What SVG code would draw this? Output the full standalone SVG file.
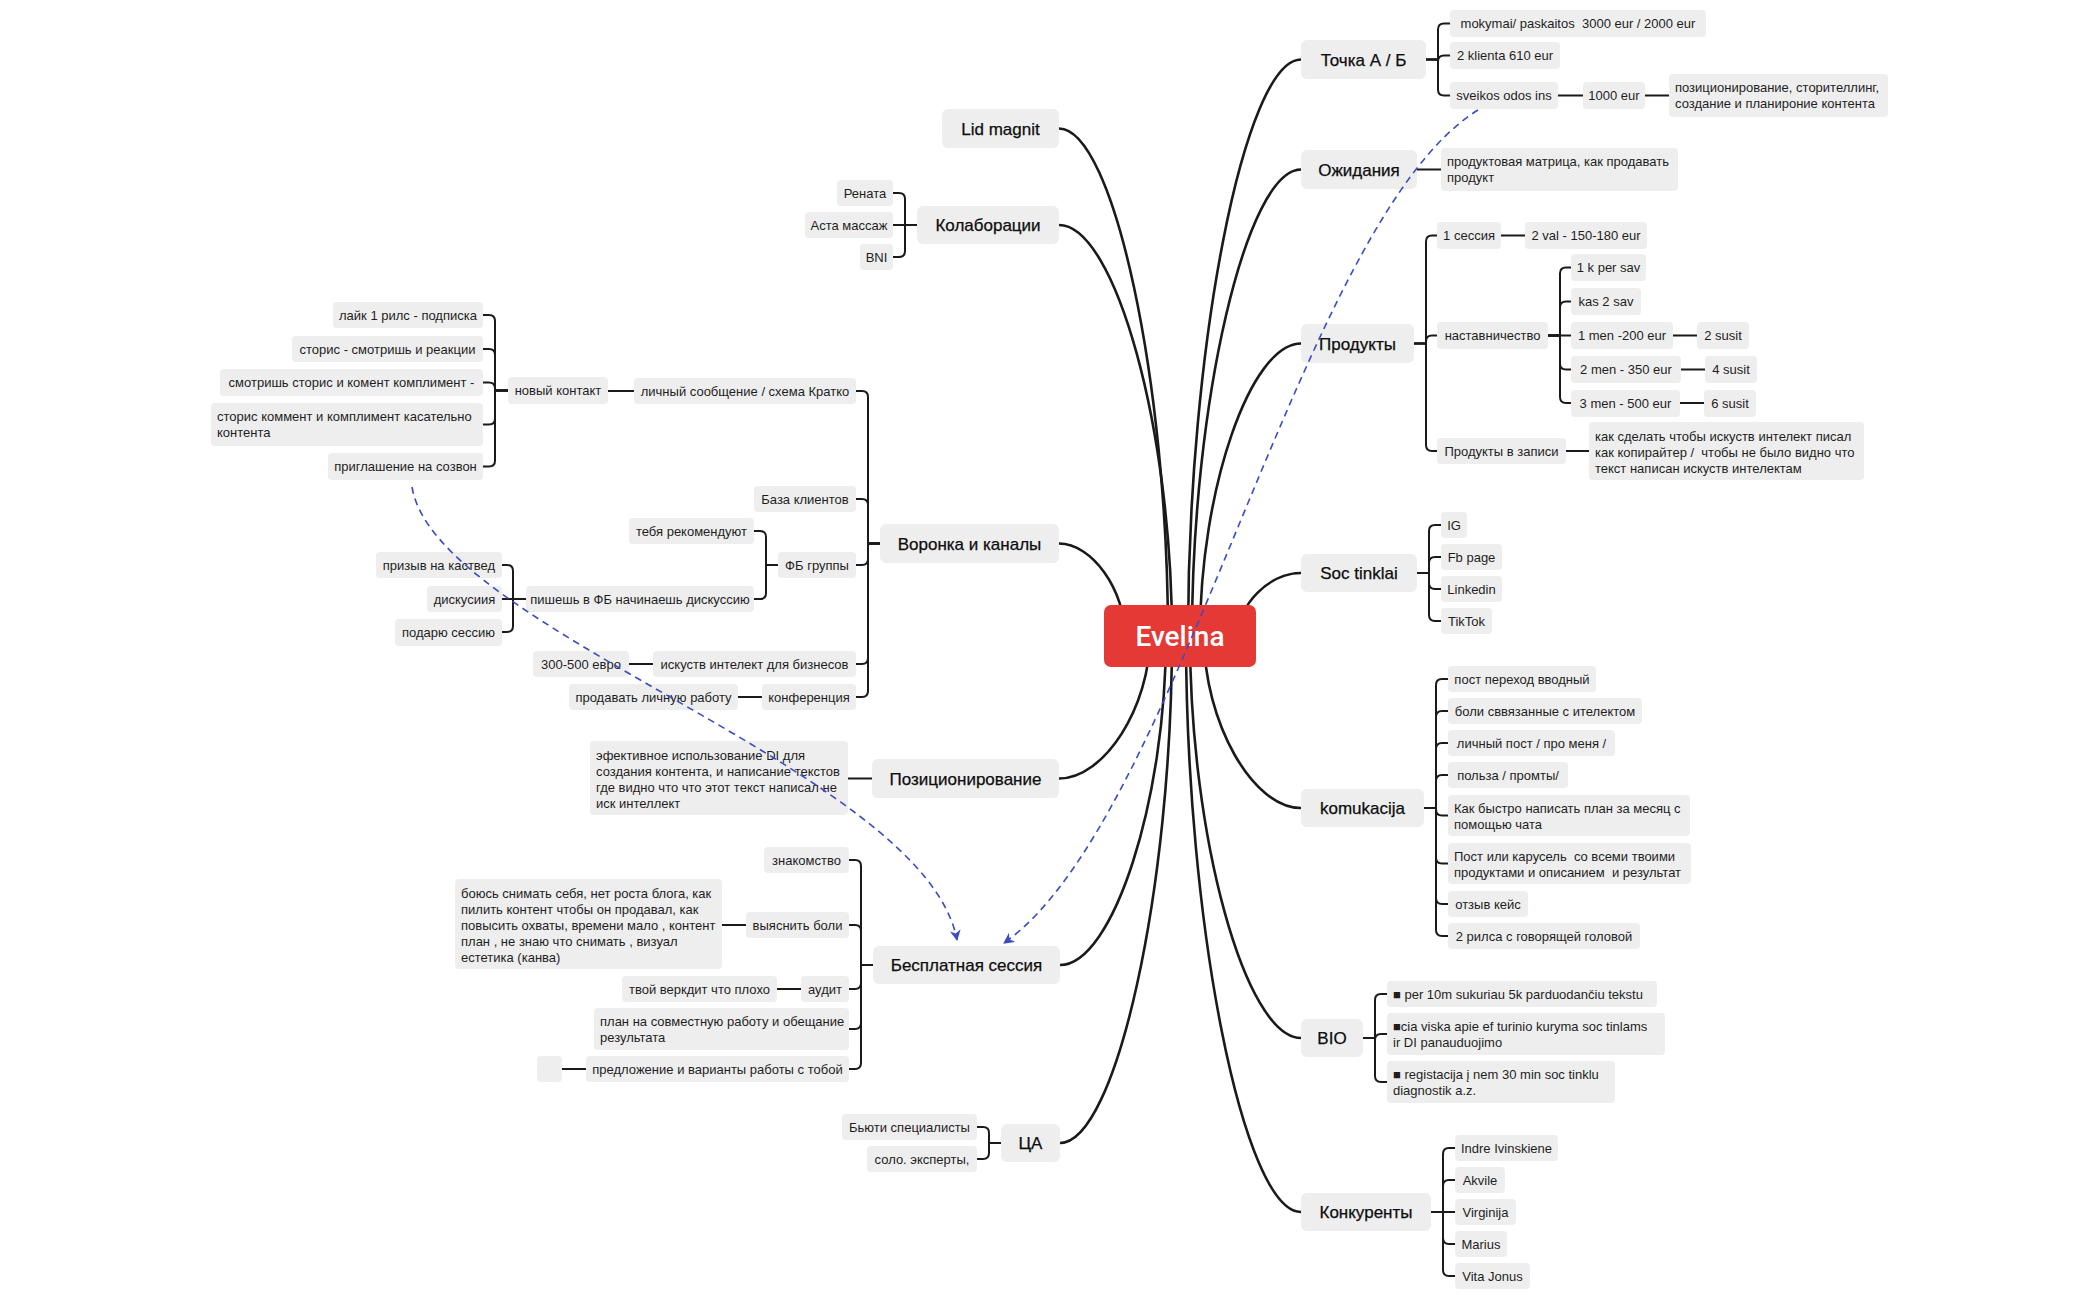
<svg xmlns="http://www.w3.org/2000/svg" width="2100" height="1300" viewBox="0 0 2100 1300">
<defs>
<style>
.b{fill:#eeeeee}
.B{fill:#eeeeee}
.s{font-family:"Liberation Sans",Arial,sans-serif;font-size:13px;fill:#1e1e1e;text-anchor:middle}
.l{font-family:"Liberation Sans",Arial,sans-serif;font-size:13px;fill:#1e1e1e}
.m{font-family:"Liberation Sans",Arial,sans-serif;font-size:17px;fill:#0d0d0d;text-anchor:middle;stroke:#0d0d0d;stroke-width:0.25}
.c{fill:none;stroke:#1a1a1a;stroke-width:2.6;stroke-linecap:round}
.k{fill:none;stroke:#1a1a1a;stroke-width:2;stroke-linecap:round;stroke-linejoin:round}
.d{fill:none;stroke:#3a4cc4;stroke-width:1.6;stroke-dasharray:7 5}
</style>
<marker id="ah" viewBox="0 0 10 10" refX="9" refY="5" markerWidth="11" markerHeight="11" markerUnits="userSpaceOnUse" orient="auto">
<path d="M0,0 L10,5 L0,10 L3,5 z" fill="#3a4cc4"/>
</marker>
</defs>
<rect width="2100" height="1300" fill="#ffffff"/>

<g id="connectors">
<path class="c" d="M1059 128.5 C1113.5 128.5 1168 382 1168 636"/>
<path class="c" d="M1059 225 C1115.5 225 1172 430.5 1172 636"/>
<path class="c" d="M1059 543.5 C1092 543.5 1125 590 1125 636"/>
<path class="c" d="M1059 778.5 C1104.5 778.5 1150 707 1150 636"/>
<path class="c" d="M1060 965 C1113 965 1166 800 1166 636"/>
<path class="c" d="M1060 1143 C1116 1143 1172 889.5 1172 636"/>
<path class="c" d="M1301 59.5 C1244.5 59.5 1188 347.75 1188 636"/>
<path class="c" d="M1301 169.5 C1246.5 169.5 1192 402.75 1192 636"/>
<path class="c" d="M1301 343.5 C1250.5 343.5 1200 489.75 1200 636"/>
<path class="c" d="M1301 573 C1269.5 573 1238 604.5 1238 636"/>
<path class="c" d="M1301 808 C1252.5 808 1204 722 1204 636"/>
<path class="c" d="M1301 1038 C1245.5 1038 1190 837 1190 636"/>
<path class="c" d="M1301 1212 C1243.5 1212 1186 924 1186 636"/>
<path class="k" d="M917 225 H905 V199 Q905 193 899 193 H893"/>
<path class="k" d="M917 225 H893"/>
<path class="k" d="M917 225 H905 V251 Q905 257 899 257 H893"/>
<path class="k" d="M880 543.5 H868 V397 Q868 391 862 391 H856"/>
<path class="k" d="M880 543.5 H868 V505 Q868 499 862 499 H856"/>
<path class="k" d="M880 543.5 H868 V559 Q868 565 862 565 H856"/>
<path class="k" d="M880 543.5 H868 V658 Q868 664 862 664 H856"/>
<path class="k" d="M880 543.5 H868 V691 Q868 697 862 697 H856"/>
<path class="k" d="M634 391 H608"/>
<path class="k" d="M508 390.5 H495 V321 Q495 315 489 315 H483"/>
<path class="k" d="M508 390.5 H495 V355 Q495 349 489 349 H483"/>
<path class="k" d="M508 390.5 H495 V388.5 Q495 382.5 489 382.5 H483"/>
<path class="k" d="M508 390.5 H495 V418.5 Q495 424.5 489 424.5 H483"/>
<path class="k" d="M508 390.5 H495 V460.5 Q495 466.5 489 466.5 H483"/>
<path class="k" d="M778 565 H766 V537 Q766 531 760 531 H754"/>
<path class="k" d="M778 565 H766 V593 Q766 599 760 599 H754"/>
<path class="k" d="M526 599 H513 V571 Q513 565 507 565 H502"/>
<path class="k" d="M526 599 H502"/>
<path class="k" d="M526 599 H513 V626 Q513 632 507 632 H502"/>
<path class="k" d="M653 664 H629"/>
<path class="k" d="M762 697 H738"/>
<path class="k" d="M872 778.5 H848"/>
<path class="k" d="M873 965 H861 V866 Q861 860 855 860 H849"/>
<path class="k" d="M873 965 H861 V931 Q861 925 855 925 H849"/>
<path class="k" d="M873 965 H861 V983 Q861 989 855 989 H849"/>
<path class="k" d="M873 965 H861 V1023 Q861 1029 855 1029 H849"/>
<path class="k" d="M873 965 H861 V1063 Q861 1069 855 1069 H849"/>
<path class="k" d="M746 925 H722"/>
<path class="k" d="M801 989 H777"/>
<path class="k" d="M586 1069 H562"/>
<path class="k" d="M1001 1143 H989 V1133 Q989 1127 983 1127 H977"/>
<path class="k" d="M1001 1143 H989 V1153 Q989 1159 983 1159 H977"/>
<path class="k" d="M1426 59.5 H1438 V29.5 Q1438 23.5 1444 23.5 H1450"/>
<path class="k" d="M1426 59.5 H1438 V61.5 Q1438 55.5 1444 55.5 H1450"/>
<path class="k" d="M1426 59.5 H1438 V89.5 Q1438 95.5 1444 95.5 H1450"/>
<path class="k" d="M1558 95.5 H1583"/>
<path class="k" d="M1645 95.5 H1669"/>
<path class="k" d="M1417 169.5 H1441"/>
<path class="k" d="M1414 343.5 H1426 V241.5 Q1426 235.5 1432 235.5 H1437"/>
<path class="k" d="M1414 343.5 H1426 V341.5 Q1426 335.5 1432 335.5 H1437"/>
<path class="k" d="M1414 343.5 H1426 V445 Q1426 451 1432 451 H1437"/>
<path class="k" d="M1501 235.5 H1525"/>
<path class="k" d="M1548 335.5 H1560 V273.5 Q1560 267.5 1566 267.5 H1571"/>
<path class="k" d="M1548 335.5 H1560 V307.5 Q1560 301.5 1566 301.5 H1571"/>
<path class="k" d="M1548 335.5 H1571"/>
<path class="k" d="M1548 335.5 H1560 V363.5 Q1560 369.5 1566 369.5 H1571"/>
<path class="k" d="M1548 335.5 H1560 V397 Q1560 403 1566 403 H1571"/>
<path class="k" d="M1673 335.5 H1697"/>
<path class="k" d="M1681 369.5 H1705"/>
<path class="k" d="M1680 403 H1704"/>
<path class="k" d="M1566 451 H1589"/>
<path class="k" d="M1417 573 H1429 V531 Q1429 525 1435 525 H1441"/>
<path class="k" d="M1417 573 H1429 V563 Q1429 557 1435 557 H1441"/>
<path class="k" d="M1417 573 H1429 V583 Q1429 589 1435 589 H1441"/>
<path class="k" d="M1417 573 H1429 V615 Q1429 621 1435 621 H1441"/>
<path class="k" d="M1424 808 H1436 V685 Q1436 679 1442 679 H1448"/>
<path class="k" d="M1424 808 H1436 V717 Q1436 711 1442 711 H1448"/>
<path class="k" d="M1424 808 H1436 V749 Q1436 743 1442 743 H1448"/>
<path class="k" d="M1424 808 H1436 V781 Q1436 775 1442 775 H1448"/>
<path class="k" d="M1424 808 H1436 V809.5 Q1436 815.5 1442 815.5 H1448"/>
<path class="k" d="M1424 808 H1436 V857.5 Q1436 863.5 1442 863.5 H1448"/>
<path class="k" d="M1424 808 H1436 V898 Q1436 904 1442 904 H1448"/>
<path class="k" d="M1424 808 H1436 V930 Q1436 936 1442 936 H1448"/>
<path class="k" d="M1363 1038 H1375 V1000 Q1375 994 1381 994 H1387"/>
<path class="k" d="M1363 1038 H1375 V1040 Q1375 1034 1381 1034 H1387"/>
<path class="k" d="M1363 1038 H1375 V1076 Q1375 1082 1381 1082 H1387"/>
<path class="k" d="M1431 1212 H1443 V1154 Q1443 1148 1449 1148 H1455"/>
<path class="k" d="M1431 1212 H1443 V1186 Q1443 1180 1449 1180 H1455"/>
<path class="k" d="M1431 1212 H1455"/>
<path class="k" d="M1431 1212 H1443 V1238 Q1443 1244 1449 1244 H1455"/>
<path class="k" d="M1431 1212 H1443 V1270 Q1443 1276 1449 1276 H1455"/>
</g>

<g id="root">
<rect x="1104" y="605" width="152" height="62" rx="7" fill="#e53935"/>
<text x="1180" y="646" font-family="Roboto, Liberation Sans, Arial, sans-serif" font-size="28" font-weight="500" fill="#ffffff" text-anchor="middle">Evelina</text>
</g>

<g id="lid"><rect class="B" x="942" y="109" width="117" height="39" rx="6"/><text class="m" x="1000.5" y="134.5">Lid magnit</text></g>
<g id="kol"><rect class="B" x="917" y="206" width="142" height="38" rx="6"/><text class="m" x="988" y="231">Колаборации</text></g>
<g id="renata"><rect class="b" x="837" y="180" width="56" height="26" rx="4"/><text class="s" x="865" y="197.5">Рената</text></g>
<g id="asta"><rect class="b" x="805" y="212" width="88" height="26" rx="4"/><text class="s" x="849" y="229.5">Аста массаж</text></g>
<g id="bni"><rect class="b" x="860" y="244" width="33" height="26" rx="4"/><text class="s" x="876.5" y="261.5">BNI</text></g>
<g id="voronka"><rect class="B" x="880" y="524" width="179" height="39" rx="6"/><text class="m" x="969.5" y="549.5">Воронка и каналы</text></g>
<g id="lichny"><rect class="b" x="634" y="378" width="222" height="26" rx="4"/><text class="s" x="745" y="395.5">личный сообщение / схема Кратко</text></g>
<g id="novy"><rect class="b" x="508" y="377" width="100" height="27" rx="4"/><text class="s" x="558" y="395">новый контакт</text></g>
<g id="layk"><rect class="b" x="333" y="302" width="150" height="26" rx="4"/><text class="s" x="408" y="319.5">лайк 1 рилс - подписка</text></g>
<g id="storis1"><rect class="b" x="292" y="336" width="191" height="26" rx="4"/><text class="s" x="387.5" y="353.5">сторис - смотришь и реакции</text></g>
<g id="smotrish"><rect class="b" x="220" y="369" width="263" height="27" rx="4"/><text class="s" x="351.5" y="387">смотришь сторис и комент комплимент -</text></g>
<g id="storis2"><rect class="b" x="211" y="403" width="272" height="43" rx="4"/><text class="l" x="217" y="421">сторис коммент и комплимент касательно</text><text class="l" x="217" y="437">контента</text></g>
<g id="priglash"><rect class="b" x="328" y="453" width="155" height="27" rx="4"/><text class="s" x="405.5" y="471">приглашение на созвон</text></g>
<g id="baza"><rect class="b" x="754" y="486" width="102" height="26" rx="4"/><text class="s" x="805" y="503.5">База клиентов</text></g>
<g id="fb"><rect class="b" x="778" y="552" width="78" height="26" rx="4"/><text class="s" x="817" y="569.5">ФБ группы</text></g>
<g id="tebya"><rect class="b" x="629" y="518" width="125" height="26" rx="4"/><text class="s" x="691.5" y="535.5">тебя рекомендуют</text></g>
<g id="pishesh"><rect class="b" x="526" y="586" width="228" height="26" rx="4"/><text class="s" x="640" y="603.5">пишешь в ФБ начинаешь дискуссию</text></g>
<g id="prizyv"><rect class="b" x="376" y="552" width="126" height="26" rx="4"/><text class="s" x="439" y="569.5">призыв на каствед</text></g>
<g id="diskus"><rect class="b" x="427" y="586" width="75" height="26" rx="4"/><text class="s" x="464.5" y="603.5">дискусиия</text></g>
<g id="podaryu"><rect class="b" x="395" y="619" width="107" height="27" rx="4"/><text class="s" x="448.5" y="637">подарю сессию</text></g>
<g id="iskustv"><rect class="b" x="653" y="651" width="203" height="26" rx="4"/><text class="s" x="754.5" y="668.5">искуств интелект для бизнесов</text></g>
<g id="e300"><rect class="b" x="533" y="651" width="96" height="26" rx="4"/><text class="s" x="581" y="668.5">300-500 евро</text></g>
<g id="konf"><rect class="b" x="762" y="684" width="94" height="26" rx="4"/><text class="s" x="809" y="701.5">конференция</text></g>
<g id="prodavat"><rect class="b" x="569" y="684" width="169" height="26" rx="4"/><text class="s" x="653.5" y="701.5">продавать личную работу</text></g>
<g id="poz"><rect class="B" x="872" y="759" width="187" height="39" rx="6"/><text class="m" x="965.5" y="784.5">Позиционирование</text></g>
<g id="efekt"><rect class="b" x="590" y="741" width="258" height="74" rx="4"/><text class="l" x="596" y="759.5">эфективное использование DI для</text><text class="l" x="596" y="775.5">создания контента, и написание текстов</text><text class="l" x="596" y="791.5">где видно что что этот текст написал не</text><text class="l" x="596" y="807.5">иск интеллект</text></g>
<g id="besp"><rect class="B" x="873" y="946" width="187" height="38" rx="6"/><text class="m" x="966.5" y="971">Бесплатная сессия</text></g>
<g id="znak"><rect class="b" x="764" y="847" width="85" height="26" rx="4"/><text class="s" x="806.5" y="864.5">знакомство</text></g>
<g id="vyasn"><rect class="b" x="746" y="912" width="103" height="26" rx="4"/><text class="s" x="797.5" y="929.5">выяснить боли</text></g>
<g id="boyus"><rect class="b" x="455" y="879" width="267" height="90" rx="4"/><text class="l" x="461" y="897.5">боюсь снимать себя, нет роста блога, как</text><text class="l" x="461" y="913.5">пилить контент чтобы он продавал, как</text><text class="l" x="461" y="929.5">повысить охваты, времени мало , контент</text><text class="l" x="461" y="945.5">план , не знаю что снимать , визуал</text><text class="l" x="461" y="961.5">естетика (канва)</text></g>
<g id="audit"><rect class="b" x="801" y="976" width="48" height="26" rx="4"/><text class="s" x="825" y="993.5">аудит</text></g>
<g id="tvoy"><rect class="b" x="622" y="976" width="155" height="26" rx="4"/><text class="s" x="699.5" y="993.5">твой веркдит что плохо</text></g>
<g id="plan"><rect class="b" x="594" y="1008" width="255" height="42" rx="4"/><text class="l" x="600" y="1026">план на совместную работу и обещание</text><text class="l" x="600" y="1042">результата</text></g>
<g id="predl"><rect class="b" x="586" y="1056" width="263" height="26" rx="4"/><text class="s" x="717.5" y="1073.5">предложение и варианты работы с тобой</text></g>
<g id="empty"><rect class="b" x="537" y="1056" width="25" height="26" rx="4"/></g>
<g id="ca"><rect class="B" x="1001" y="1124" width="59" height="38" rx="6"/><text class="m" x="1030.5" y="1149">ЦА</text></g>
<g id="byuti"><rect class="b" x="842" y="1114" width="135" height="26" rx="4"/><text class="s" x="909.5" y="1131.5">Бьюти специалисты</text></g>
<g id="solo"><rect class="b" x="867" y="1146" width="110" height="26" rx="4"/><text class="s" x="922" y="1163.5">соло. эксперты,</text></g>

<g id="tochka"><rect class="B" x="1301" y="40" width="125" height="39" rx="6"/><text class="m" x="1363.5" y="65.5">Точка А / Б</text></g>
<g id="mokymai"><rect class="b" x="1450" y="10" width="256" height="27" rx="4"/><text class="s" x="1578" y="28" xml:space="preserve">mokymai/ paskaitos  3000 eur / 2000 eur</text></g>
<g id="klienta"><rect class="b" x="1450" y="42" width="110" height="27" rx="4"/><text class="s" x="1505" y="60">2 klienta 610 eur</text></g>
<g id="sveikos"><rect class="b" x="1450" y="82" width="108" height="27" rx="4"/><text class="s" x="1504" y="100">sveikos odos ins</text></g>
<g id="eur1000"><rect class="b" x="1583" y="82" width="62" height="27" rx="4"/><text class="s" x="1614" y="100">1000 eur</text></g>
<g id="pozic"><rect class="b" x="1669" y="74" width="219" height="43" rx="4"/><text class="l" x="1675" y="92">позиционирование, сторителлинг,</text><text class="l" x="1675" y="108">создание и планироние контента</text></g>
<g id="ozhid"><rect class="B" x="1301" y="150" width="116" height="39" rx="6"/><text class="m" x="1359" y="175.5">Ожидания</text></g>
<g id="matrica"><rect class="b" x="1441" y="148" width="237" height="43" rx="4"/><text class="l" x="1447" y="166">продуктовая матрица, как продавать</text><text class="l" x="1447" y="182">продукт</text></g>
<g id="produkty"><rect class="B" x="1301" y="324" width="113" height="39" rx="6"/><text class="m" x="1357.5" y="349.5">Продукты</text></g>
<g id="sessiya"><rect class="b" x="1437" y="222" width="64" height="27" rx="4"/><text class="s" x="1469" y="240">1 сессия</text></g>
<g id="val"><rect class="b" x="1525" y="222" width="122" height="27" rx="4"/><text class="s" x="1586" y="240">2 val - 150-180 eur</text></g>
<g id="nastav"><rect class="b" x="1437" y="322" width="111" height="27" rx="4"/><text class="s" x="1492.5" y="340">наставничество</text></g>
<g id="k1"><rect class="b" x="1571" y="254" width="75" height="27" rx="4"/><text class="s" x="1608.5" y="272">1 k per sav</text></g>
<g id="kas2"><rect class="b" x="1571" y="288" width="70" height="27" rx="4"/><text class="s" x="1606" y="306">kas 2 sav</text></g>
<g id="men1"><rect class="b" x="1571" y="322" width="102" height="27" rx="4"/><text class="s" x="1622" y="340">1 men -200 eur</text></g>
<g id="s2"><rect class="b" x="1697" y="322" width="52" height="27" rx="4"/><text class="s" x="1723" y="340">2 susit</text></g>
<g id="men2"><rect class="b" x="1571" y="356" width="110" height="27" rx="4"/><text class="s" x="1626" y="374">2 men - 350 eur</text></g>
<g id="s4"><rect class="b" x="1705" y="356" width="52" height="27" rx="4"/><text class="s" x="1731" y="374">4 susit</text></g>
<g id="men3"><rect class="b" x="1571" y="390" width="109" height="27" rx="4"/><text class="s" x="1625.5" y="408">3 men - 500 eur</text></g>
<g id="s6"><rect class="b" x="1704" y="390" width="52" height="27" rx="4"/><text class="s" x="1730" y="408">6 susit</text></g>
<g id="zapisi"><rect class="b" x="1437" y="438" width="129" height="26" rx="4"/><text class="s" x="1501.5" y="455.5">Продукты в записи</text></g>
<g id="kak"><rect class="b" x="1589" y="422" width="275" height="58" rx="4"/><text class="l" x="1595" y="441">как сделать чтобы искуств интелект писал</text><text class="l" x="1595" y="457" xml:space="preserve">как копирайтер /  чтобы не было видно что</text><text class="l" x="1595" y="473">текст написан искуств интелектам</text></g>
<g id="soc"><rect class="B" x="1301" y="554" width="116" height="38" rx="6"/><text class="m" x="1359" y="579">Soc tinklai</text></g>
<g id="ig"><rect class="b" x="1441" y="512" width="26" height="26" rx="4"/><text class="s" x="1454" y="529.5">IG</text></g>
<g id="fbpage"><rect class="b" x="1441" y="544" width="61" height="26" rx="4"/><text class="s" x="1471.5" y="561.5">Fb page</text></g>
<g id="linkedin"><rect class="b" x="1441" y="576" width="61" height="26" rx="4"/><text class="s" x="1471.5" y="593.5">Linkedin</text></g>
<g id="tiktok"><rect class="b" x="1441" y="608" width="51" height="26" rx="4"/><text class="s" x="1466.5" y="625.5">TikTok</text></g>
<g id="komu"><rect class="B" x="1301" y="789" width="123" height="38" rx="6"/><text class="m" x="1362.5" y="814">komukacija</text></g>
<g id="post1"><rect class="b" x="1448" y="666" width="148" height="26" rx="4"/><text class="s" x="1522" y="683.5">пост переход вводный</text></g>
<g id="boli"><rect class="b" x="1448" y="698" width="194" height="26" rx="4"/><text class="s" x="1545" y="715.5">боли сввязанные с ителектом</text></g>
<g id="lichpost"><rect class="b" x="1448" y="730" width="167" height="26" rx="4"/><text class="s" x="1531.5" y="747.5">личный пост / про меня /</text></g>
<g id="polza"><rect class="b" x="1448" y="762" width="120" height="26" rx="4"/><text class="s" x="1508" y="779.5">польза / промты/</text></g>
<g id="kakbystro"><rect class="b" x="1448" y="795" width="242" height="41" rx="4"/><text class="l" x="1454" y="812.5">Как быстро написать план за месяц с</text><text class="l" x="1454" y="828.5">помощью чата</text></g>
<g id="karusel"><rect class="b" x="1448" y="843" width="243" height="41" rx="4"/><text class="l" x="1454" y="860.5" xml:space="preserve">Пост или карусель  со всеми твоими</text><text class="l" x="1454" y="876.5" xml:space="preserve">продуктами и описанием  и результат</text></g>
<g id="otzyv"><rect class="b" x="1448" y="891" width="80" height="26" rx="4"/><text class="s" x="1488" y="908.5">отзыв кейс</text></g>
<g id="rilsa"><rect class="b" x="1448" y="923" width="192" height="26" rx="4"/><text class="s" x="1544" y="940.5">2 рилса с говорящей головой</text></g>
<g id="bio"><rect class="B" x="1301" y="1019" width="62" height="38" rx="6"/><text class="m" x="1332" y="1044">BIO</text></g>
<g id="per10m"><rect class="b" x="1387" y="981" width="270" height="26" rx="4"/><text class="l" x="1393" y="998.5">■ per 10m sukuriau 5k parduodančiu tekstu</text></g>
<g id="cia"><rect class="b" x="1387" y="1013" width="278" height="42" rx="4"/><text class="l" x="1393" y="1031">■cia viska apie ef turinio kuryma soc tinlams</text><text class="l" x="1393" y="1047">ir DI panauduojimo</text></g>
<g id="regist"><rect class="b" x="1387" y="1061" width="228" height="42" rx="4"/><text class="l" x="1393" y="1079">■ registacija į nem 30 min soc tinklu</text><text class="l" x="1393" y="1095">diagnostik a.z.</text></g>
<g id="konk"><rect class="B" x="1301" y="1193" width="130" height="38" rx="6"/><text class="m" x="1366" y="1218">Конкуренты</text></g>
<g id="indre"><rect class="b" x="1455" y="1135" width="103" height="26" rx="4"/><text class="s" x="1506.5" y="1152.5">Indre Ivinskiene</text></g>
<g id="akvile"><rect class="b" x="1455" y="1167" width="50" height="26" rx="4"/><text class="s" x="1480" y="1184.5">Akvile</text></g>
<g id="virginija"><rect class="b" x="1455" y="1199" width="61" height="26" rx="4"/><text class="s" x="1485.5" y="1216.5">Virginija</text></g>
<g id="marius"><rect class="b" x="1455" y="1231" width="52" height="26" rx="4"/><text class="s" x="1481" y="1248.5">Marius</text></g>
<g id="vita"><rect class="b" x="1455" y="1263" width="75" height="26" rx="4"/><text class="s" x="1492.5" y="1280.5">Vita Jonus</text></g>

<g id="relations">
<path class="d" d="M412 487 C435 630 925 770 957 940" marker-end="url(#ah)"/>
<path class="d" d="M1478 110 C1300 220 1180 820 1004 943" marker-end="url(#ah)"/>
</g>
</svg>
